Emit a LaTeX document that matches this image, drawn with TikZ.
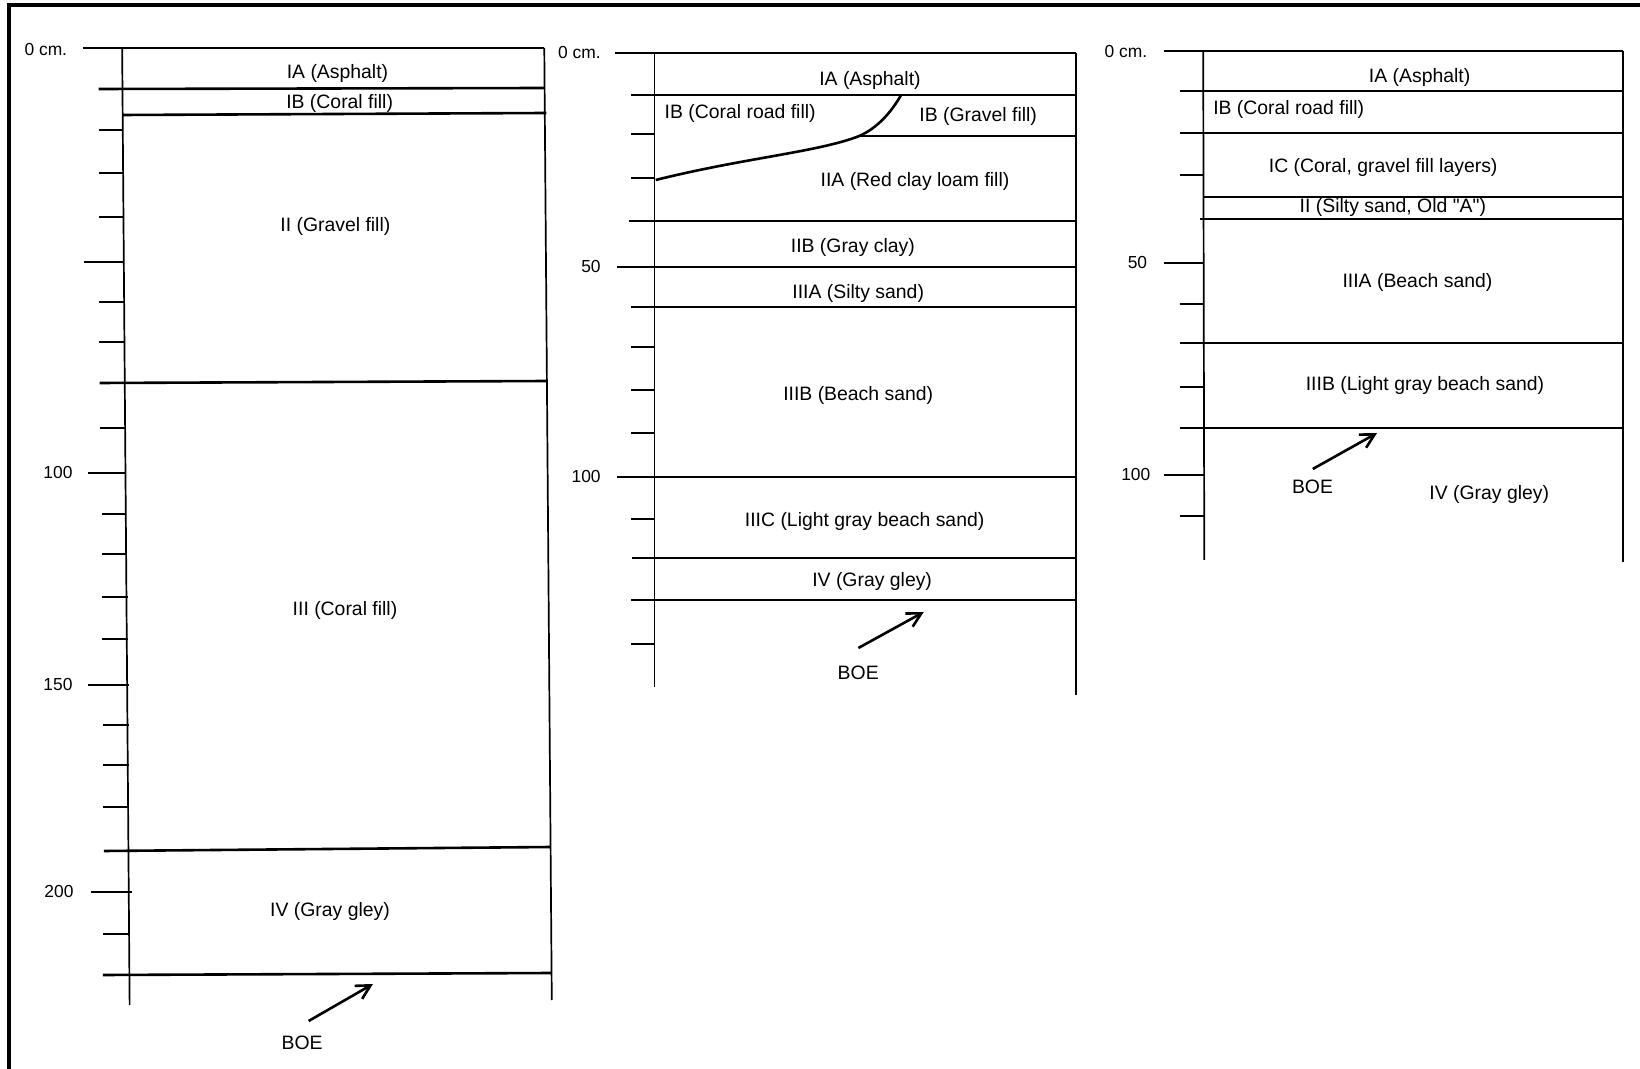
\documentclass[tikz,border=0pt]{standalone}
\usepackage{fontspec}
\setmainfont{Liberation Sans}[Ligatures=TeXOff]
\usetikzlibrary{arrows.meta}
\newcommand{\lbfont}{\fontsize{9.7}{11}\selectfont}
\newcommand{\axfont}{\fontsize{8.7}{10}\selectfont}
\tikzset{
  layer/.style={line width=1.3pt},
  colline/.style={line width=0.85pt},
  tickline/.style={line width=1.1pt},
  lbl/.style={font=\lbfont, inner sep=0pt},
  axl/.style={font=\axfont, inner sep=0pt, anchor=east},
  boearrow/.style={-{Straight Barb[length=7pt,width=7.5pt]}, line width=1.3pt},
  frameline/.style={line width=1.8pt}
}
\begin{document}
\begin{tikzpicture}[x=0.5pt,y=-0.5pt]
\useasboundingbox (0,0) rectangle (1640,1069);
% frame
\draw[frameline] (9,1069) -- (9,5) -- (1640,5);

% ================= Panel 1 =================
\begin{scope}[xscale=15/14]
\draw[colline] (114,48) -- (121,1005);
\draw[colline] (508,48) -- (515,1000);
\draw[layer] (77,48) -- (508,48);
\draw[layer] (92,89) -- (508,88);
\draw[layer] (114,115) -- (510,113);
\draw[layer] (93,383) -- (511,381);
\draw[layer] (97,851) -- (514,847);
\draw[layer] (96,975) -- (515,973);
\foreach \y/\a/\b in {130/92/115, 173/92/115, 217/92/115, 302/92/116, 342/92/116,
  428/93/117, 514/95/118, 554/95/118, 597/95/119, 639/95/119,
  725/96/120, 765/96/120, 807/96/120, 934/96/121}
  \draw[tickline] (\a,\y) -- (\b,\y);
\draw[tickline] (78,262) -- (116,262);
\draw[tickline] (82,473) -- (118,473);
\draw[tickline] (82,685) -- (120,685);
\draw[tickline] (85,892) -- (123,892);
\node[axl] (p1z) at (63,50) {0 cm.};
\node[axl] (p1h) at (68,473) {100};
\node[axl] (p1o) at (68,685) {150};
\node[axl] (p1t) at (69,892) {200};
\node[lbl] (p1ia) at (315,73) {IA (Asphalt)};
\node[lbl] (p1ib) at (317,103) {IB (Coral fill)};
\node[lbl] (p1ii) at (313,226) {II (Gravel fill)};
\node[lbl] (p1iii) at (322,610) {III (Coral fill)};
\node[lbl] (p1iv) at (308,911) {IV (Gray gley)};
\node[lbl] (p1boe) at (282,1043) {BOE};
\coordinate (p1a0) at (288,1021);
\coordinate (p1a1) at (348,984);
\draw[boearrow] (p1a0) -- (p1a1);
\end{scope}

% ================= Panel 2 =================
\begin{scope}[shift={(540,0)}, xscale=15/14, shift={(-540,0)}]
\draw[colline] (647,53) -- (647,687);
\draw[colline] (1040,53) -- (1040,695);
\draw[layer] (610,53) -- (1040,53);
\draw[layer] (625,95) -- (1040,95);
\draw[layer] (648,180) .. controls (730,158) and (800,152) .. (838,136)
  .. controls (855,128) and (868,112) .. (877,95);
\draw[layer] (838,136) -- (1040,136);
\draw[layer] (623,221) -- (1040,221);
\draw[layer] (612,267) -- (1040,267);
\draw[layer] (625,307) -- (1040,307);
\draw[layer] (612,477) -- (1040,477);
\draw[layer] (626,558) -- (1040,558);
\draw[layer] (625,600) -- (1040,600);
\foreach \y in {134,178,347,390,433,519,644}
  \draw[tickline] (625,\y) -- (647,\y);
\node[axl] (p2z) at (597,53) {0 cm.};
\node[axl] (p2f) at (597,267) {50};
\node[axl] (p2h) at (597,477) {100};
\node[lbl] (p2ia) at (848,80) {IA (Asphalt)};
\node[lbl, anchor=west] (p2ibc) at (656,113) {IB (Coral road fill)};
\node[lbl] (p2ibg) at (949,116) {IB (Gravel fill)};
\node[lbl] (p2iia) at (890,181) {IIA (Red clay loam fill)};
\node[lbl] (p2iib) at (832,247) {IIB (Gray clay)};
\node[lbl] (p2iiia) at (837,293) {IIIA (Silty sand)};
\node[lbl] (p2iiib) at (837,395) {IIIB (Beach sand)};
\node[lbl] (p2iiic) at (843,521) {IIIC (Light gray beach sand)};
\node[lbl] (p2iv) at (850,581) {IV (Gray gley)};
\node[lbl] (p2boe) at (837,673) {BOE};
\coordinate (p2a0) at (837,648);
\coordinate (p2a1) at (898,612);
\draw[boearrow] (p2a0) -- (p2a1);
\end{scope}

% ================= Panel 3 =================
\begin{scope}[shift={(1080,0)}, xscale=15/14, shift={(-1080,0)}]
\draw[colline] (1195,51) -- (1196,560);
\draw[colline] (1587,51) -- (1587,562);
\draw[layer] (1158,51) -- (1587,51);
\draw[layer] (1173,91) -- (1587,91);
\draw[layer] (1173,133) -- (1586,133);
\draw[layer] (1195,197) -- (1587,197);
\draw[layer] (1192,219) -- (1587,219);
\draw[layer] (1173,343) -- (1586,343);
\draw[layer] (1173,428) -- (1587,428);
\foreach \y in {175,304,387,516}
  \draw[tickline] (1173,\y) -- (1196,\y);
\draw[tickline] (1158,263) -- (1196,263);
\draw[tickline] (1158,475) -- (1196,475);
\node[axl] (p3z) at (1143,52) {0 cm.};
\node[axl] (p3f) at (1143,263) {50};
\node[axl] (p3h) at (1146,475) {100};
\node[lbl] (p3ia) at (1397,77) {IA (Asphalt)};
\node[lbl, anchor=west] (p3ib) at (1204,109) {IB (Coral road fill)};
\node[lbl] (p3ic) at (1363,167) {IC (Coral, gravel fill layers)};
\node[lbl] (p3ii) at (1372,207) {II (Silty sand, Old "A")};
\node[lbl] (p3iiia) at (1395,282) {IIIA (Beach sand)};
\node[lbl] (p3iiib) at (1402,385) {IIIB (Light gray beach sand)};
\node[lbl] (p3iv) at (1462,494) {IV (Gray gley)};
\node[lbl] (p3boe) at (1297,487) {BOE};
\coordinate (p3a0) at (1297,469);
\coordinate (p3a1) at (1357,433);
\draw[boearrow] (p3a0) -- (p3a1);
\end{scope}
\end{tikzpicture}
\end{document}
